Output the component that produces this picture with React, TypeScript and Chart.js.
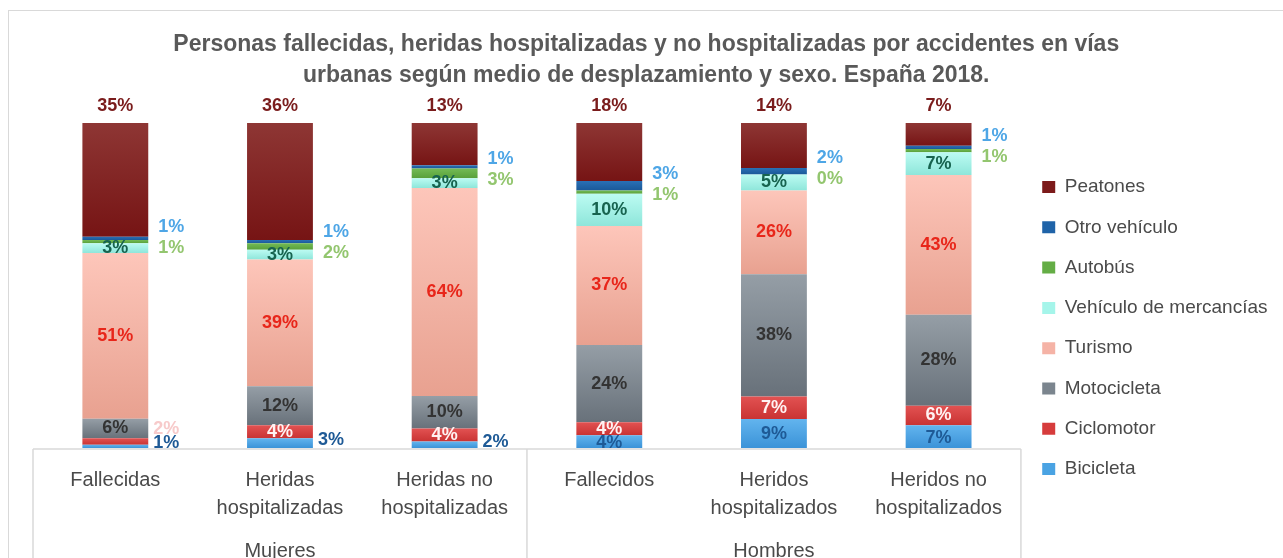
import React, { useEffect, useRef } from 'react';
import { Chart, registerables } from 'chart.js';

Chart.register(...registerables);

// ---------- data ----------
const CATEGORIES: string[][] = [
  ['Fallecidas'],
  ['Heridas', 'hospitalizadas'],
  ['Heridas no', 'hospitalizadas'],
  ['Fallecidos'],
  ['Heridos', 'hospitalizados'],
  ['Heridos no', 'hospitalizados'],
];
const GROUPS = ['Mujeres', 'Hombres'];
const TITLE_LINES = [
  'Personas fallecidas, heridas hospitalizadas y no hospitalizadas por accidentes en vías',
  'urbanas según medio de desplazamiento y sexo. España 2018.',
];
const SERIES_NAMES = [
  'Bicicleta',
  'Ciclomotor',
  'Motocicleta',
  'Turismo',
  'Vehículo de mercancías',
  'Autobús',
  'Otro vehículo',
  'Peatones',
];
const BICICLETA = [1, 3, 2, 4, 9, 7];
const CICLOMOTOR = [2, 4, 4, 4, 7, 6];
const MOTOCICLETA = [6, 12, 10, 24, 38, 28];
const TURISMO = [51, 39, 64, 37, 26, 43];
const MERCANCIAS = [3, 3, 3, 10, 5, 7];
const AUTOBUS = [1, 2, 3, 1, 0, 1];
const OTRO = [1, 1, 1, 3, 2, 1];
const PEATONES = [35, 36, 13, 18, 14, 7];

const SERIES = [BICICLETA, CICLOMOTOR, MOTOCICLETA, TURISMO, MERCANCIAS, AUTOBUS, OTRO, PEATONES];

// 100% stacked table (each column normalised to its total)
const TOTALS = CATEGORIES.map((_, i) => SERIES.reduce((s, arr) => s + arr[i], 0));
const TABLE = SERIES.map((arr) => arr.map((v, i) => (v / TOTALS[i]) * 100));

// ---------- styles ----------
const FONT = "'Liberation Sans', Arial, sans-serif";
const SOLID = ['#4aa3e3', '#d63c3c', '#7b858e', '#f5b3a6', '#a5f5ea', '#64ad45', '#1f63a8', '#7c1a1a'];
const TOPC = ['#62b4ee', '#e25252', '#959ea6', '#fdc6ba', '#bcfbf2', '#74bb55', '#2a70b5', '#8e3634'];
const BOTC = ['#3b93d8', '#c93333', '#68717a', '#e8a190', '#8ee6da', '#58a03a', '#1a5898', '#761414'];
const TEXT_GRAY = '#4a4a4a';
const LINE_GRAY = '#d9d9d9';

const makeFill = (k: number) => (c: any) => {
  const chart = c.chart;
  if (c.type !== 'data' || !chart.chartArea || !chart.scales || !chart.scales.y) return SOLID[k];
  const ys = chart.scales.y;
  let start = 0;
  for (let j = 0; j < k; j++) start += TABLE[j][c.dataIndex];
  const end = start + TABLE[k][c.dataIndex];
  const y0 = ys.getPixelForValue(end);
  const y1 = ys.getPixelForValue(start);
  if (!(y1 - y0 > 1)) return SOLID[k];
  const g = chart.ctx.createLinearGradient(0, y0, 0, y1);
  g.addColorStop(0, TOPC[k]);
  g.addColorStop(1, BOTC[k]);
  return g;
};

const fmt = (v: number) => `${Math.round(v)}%`;

const segLabels = {
  id: 'segLabels',
  afterDatasetsDraw(chart: any) {
    const { ctx } = chart;
    ctx.save();
    ctx.font = `bold 18px ${FONT}`;
    ctx.textBaseline = 'middle';
    const metas = SERIES.map((_, di) => chart.getDatasetMeta(di));
    const put = (text: string, x: number, y: number, color: string, align: CanvasTextAlign) => {
      ctx.fillStyle = color;
      ctx.textAlign = align;
      ctx.fillText(text, x, y);
    };
    for (let i = 0; i < CATEGORIES.length; i++) {
      const bars = metas.map((m: any) => m.data[i]);
      const cx = bars[0].x;
      const right = bars[0].x + bars[0].width / 2;
      const mid = (k: number) => (bars[k].y + bars[k].base) / 2;

      const vB = BICICLETA[i];
      if (vB >= 4) put(fmt(vB), cx, mid(0) + 1, '#1e5a96', 'center');
      else put(fmt(vB), right + 5, mid(0) - 3, '#1e5a96', 'left');

      const vC = CICLOMOTOR[i];
      if (vC >= 3) put(fmt(vC), cx, mid(1), '#fff2f2', 'center');
      else put(fmt(vC), right + 5, mid(1) - 12, '#f7caca', 'left');

      put(fmt(MOTOCICLETA[i]), cx, mid(2), '#333333', 'center');
      put(fmt(TURISMO[i]), cx, mid(3), '#e8261a', 'center');
      put(fmt(MERCANCIAS[i]), cx, mid(4), '#17634f', 'center');

      const pairMid = (bars[6].y + bars[5].base) / 2;
      put(fmt(OTRO[i]), right + 10, pairMid - 13, '#4ea6e6', 'left');
      put(fmt(AUTOBUS[i]), right + 10, pairMid + 8, '#93c66f', 'left');

      put(fmt(PEATONES[i]), cx, bars[7].y - 17, '#7a1c1c', 'center');
    }
    ctx.restore();
  },
};

const frameAndTable = {
  id: 'frameAndTable',
  beforeDraw(chart: any) {
    const { ctx } = chart;
    ctx.save();
    ctx.fillStyle = '#ffffff';
    ctx.fillRect(0, 0, chart.width, chart.height);
    ctx.strokeStyle = LINE_GRAY;
    ctx.lineWidth = 1;
    ctx.strokeRect(8.5, 10.5, chart.width + 50, chart.height + 50);
    ctx.restore();
  },
  afterDraw(chart: any) {
    const { ctx, chartArea } = chart;
    const xs = chart.scales.x;
    const left = xs.left;
    const right = xs.right;
    const midX = (xs.getPixelForValue(2) + xs.getPixelForValue(3)) / 2;
    const top = chartArea.bottom + 1;
    ctx.save();
    ctx.strokeStyle = LINE_GRAY;
    ctx.lineWidth = 1.5;
    ctx.beginPath();
    ctx.moveTo(left, top);
    ctx.lineTo(right, top);
    [left, midX, right].forEach((x) => {
      ctx.moveTo(x, top);
      ctx.lineTo(x, chart.height);
    });
    ctx.stroke();
    ctx.font = `20px ${FONT}`;
    ctx.fillStyle = TEXT_GRAY;
    ctx.textAlign = 'center';
    ctx.textBaseline = 'alphabetic';
    ctx.fillText(GROUPS[0], (left + midX) / 2, 557);
    ctx.fillText(GROUPS[1], (midX + right) / 2, 557);
    ctx.restore();
  },
};

export default function App() {
  const ref = useRef<HTMLCanvasElement>(null);
  useEffect(() => {
    const canvas = ref.current;
    if (!canvas) return;
    const datasets = SERIES_NAMES.map((name, k) => ({
      label: name,
      data: TABLE[k],
      backgroundColor: makeFill(k),
      borderWidth: 0,
      categoryPercentage: 1,
      barPercentage: 0.4,
      stack: 's',
    }));
    const chart = new Chart(canvas, {
      type: 'bar',
      data: { labels: CATEGORIES as any, datasets: datasets as any },
      options: {
        animation: false,
        responsive: false,
        layout: { padding: { left: 15, right: 5.5, top: 0, bottom: 0 } },
        plugins: {
          tooltip: { enabled: false },
          title: {
            display: true,
            text: TITLE_LINES,
            color: '#595959',
            font: { family: FONT, size: 23, weight: 'bold', lineHeight: '31px' as any },
            padding: { top: 29.5, bottom: 31.5 },
          },
          legend: {
            position: 'right',
            align: 'start',
            reverse: true,
            title: { display: true, text: '', padding: { top: 141.8, bottom: 0 }, font: { size: 12, lineHeight: 1.2 } },
            labels: {
              boxWidth: 13,
              boxHeight: 12,
              padding: 21.3,
              color: TEXT_GRAY,
              font: { family: FONT, size: 19 },
              generateLabels: () =>
                SERIES_NAMES.map((name, k) => ({
                  text: name,
                  fillStyle: SOLID[k],
                  strokeStyle: SOLID[k],
                  lineWidth: 0,
                  hidden: false,
                  datasetIndex: k,
                  fontColor: TEXT_GRAY,
                })) as any,
            },
          },
        },
        scales: {
          x: {
            stacked: true,
            offset: true,
            grid: { display: false, drawTicks: false },
            border: { display: false },
            ticks: {
              color: TEXT_GRAY,
              font: { family: FONT, size: 20, lineHeight: '28px' as any },
              padding: 18.5,
              maxRotation: 0,
              autoSkip: false,
            },
            afterFit: (s: any) => {
              s.height = 110;
            },
          },
          y: {
            stacked: true,
            min: 0,
            max: 100,
            display: true,
            grid: { display: false, drawTicks: false },
            border: { display: false },
            ticks: { display: false },
            afterFit: (s: any) => {
              s.width = 18;
            },
          },
        },
      } as any,
      plugins: [frameAndTable, segLabels],
    });
    return () => chart.destroy();
  }, []);
  return (
    <div style={{ position: 'fixed', left: 0, top: 0, width: 1283, height: 558, background: '#fff' }}>
      <canvas ref={ref} width={1283} height={558} style={{ display: 'block', width: 1283, height: 558 }} />
    </div>
  );
}
